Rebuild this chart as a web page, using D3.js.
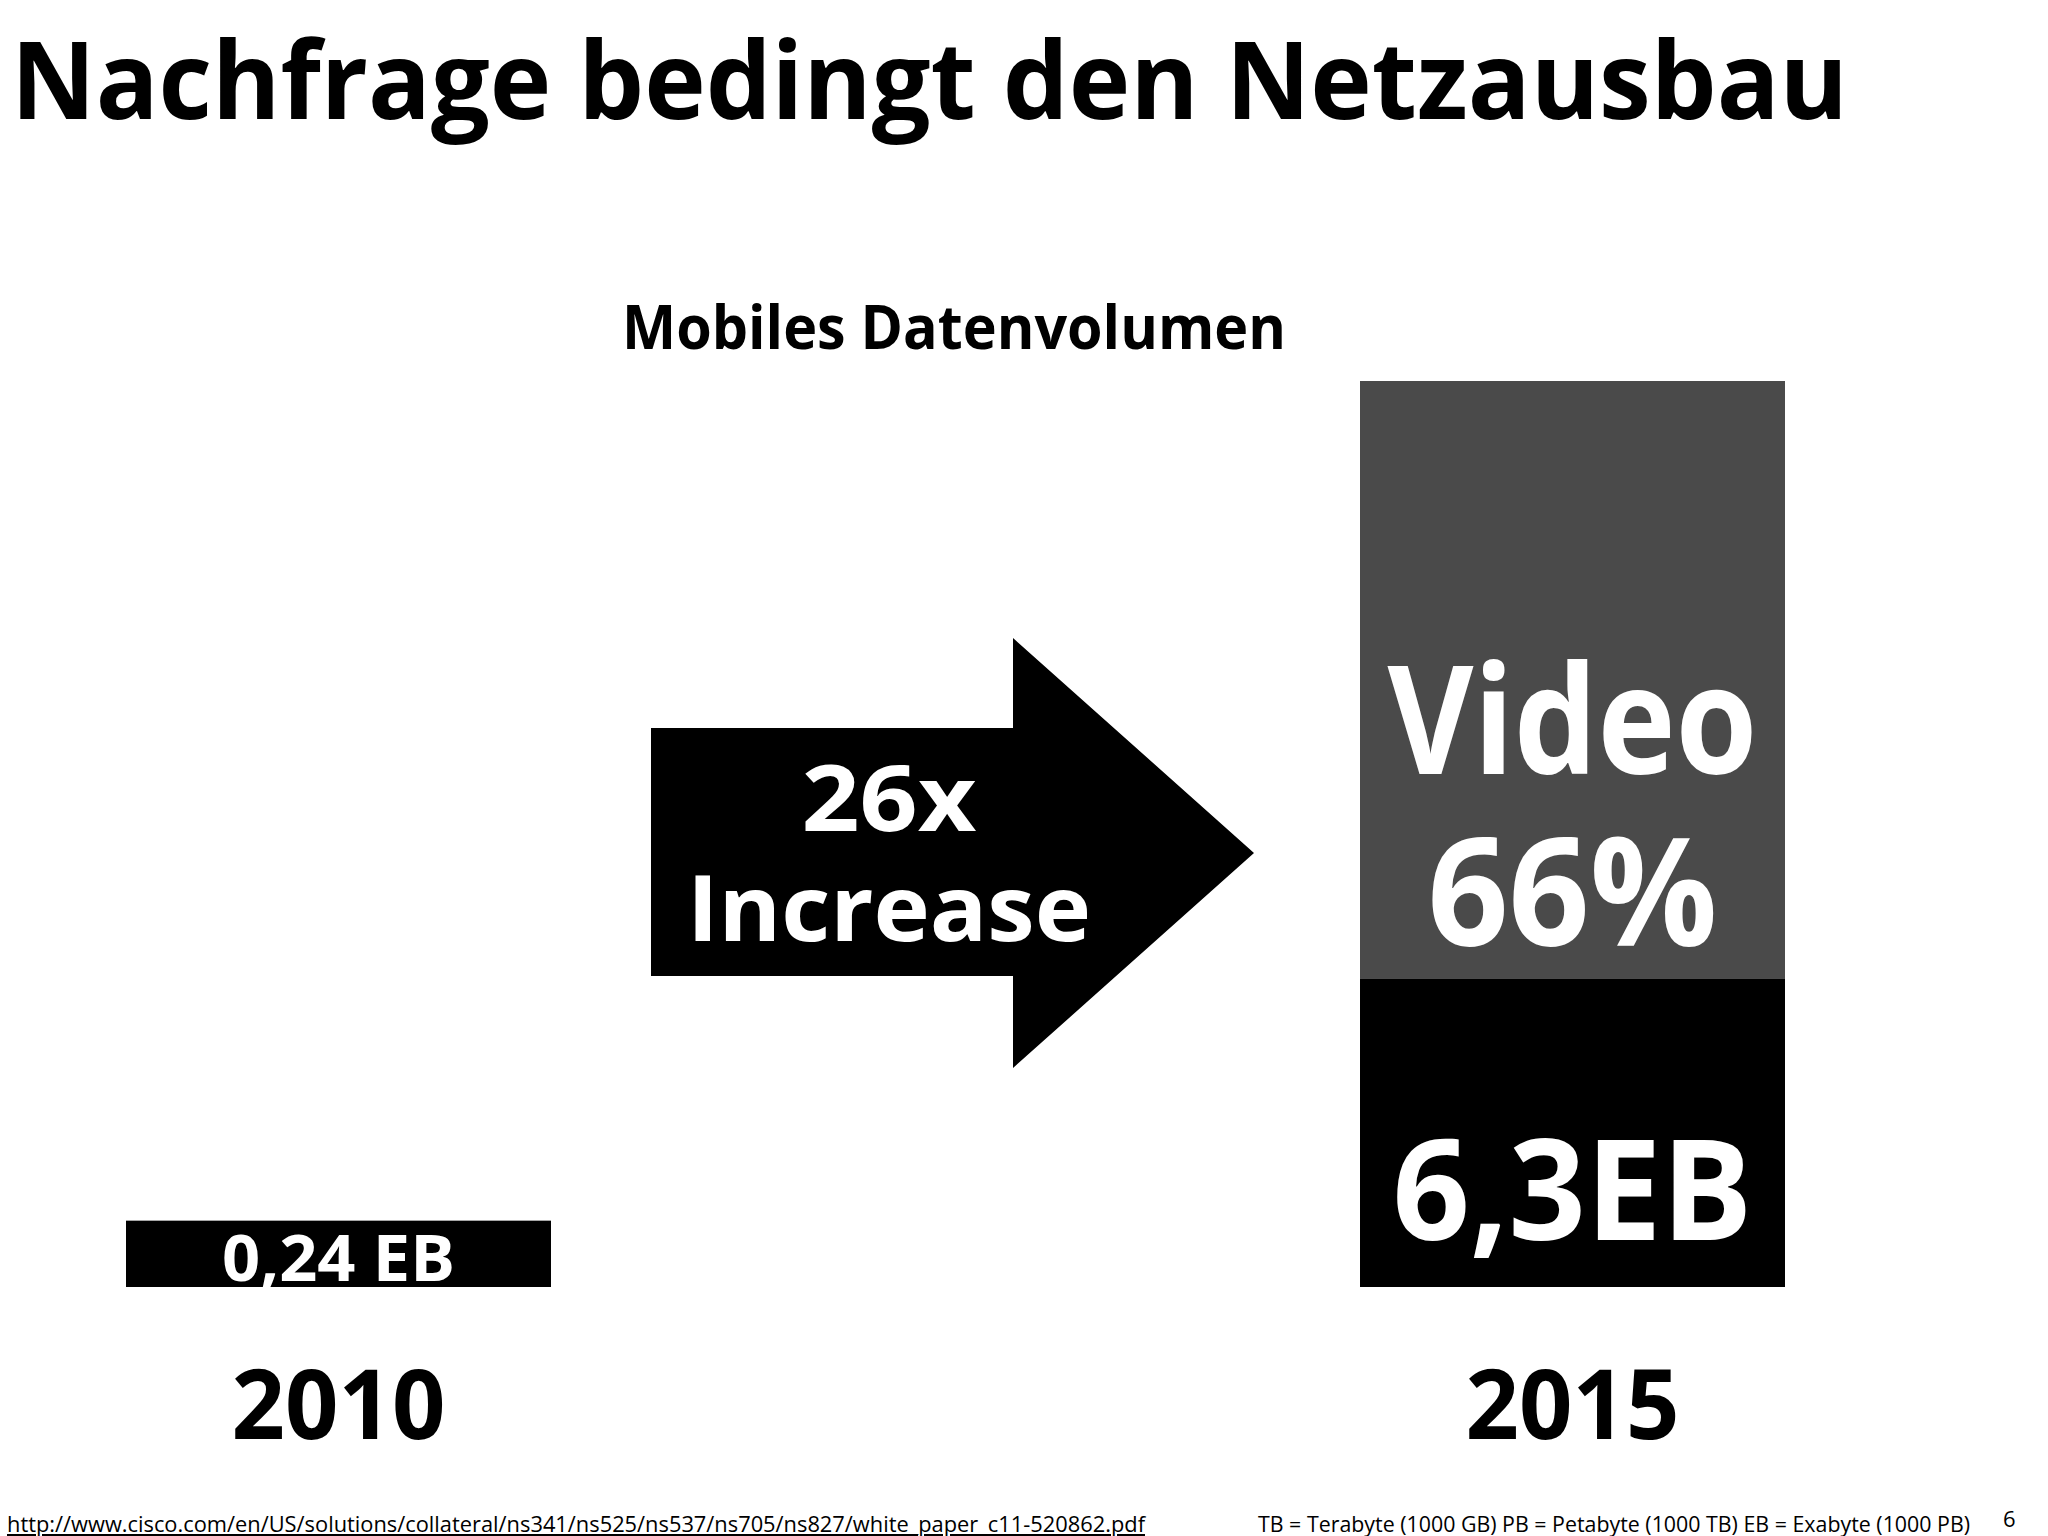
<!DOCTYPE html>
<html><head><meta charset="utf-8">
<script src="https://cdn.jsdelivr.net/npm/d3@7"></script>
<style>body{margin:0;background:#fff}svg{display:block}</style>
</head><body><svg id="c" width="2048" height="1536"></svg>
<script>
const years = ["2010", "2015"];
const volumes = [0.24, 6.3];
const volumeLabels = ["0,24 EB", "6,3EB"];
const videoShare = 0.66;
const videoLabel = ["Video", "66%"];
const arrowLabel = ["26x", "Increase"];

const svg = d3.select("#c");
const F = "'Open Sans', 'DejaVu Sans', sans-serif";
function txt(x, y, s, size, opts = {}) {
  const t = svg.append("text").attr("x", x).attr("y", y).text(s)
    .attr("font-family", F).attr("font-size", size)
    .attr("font-weight", opts.w || 700).attr("fill", opts.fill || "#000")
    .attr("text-anchor", opts.anchor || "start");
  if (opts.len) t.attr("textLength", opts.len).attr("lengthAdjust", "spacingAndGlyphs");
  if (opts.u) t.attr("text-decoration", "underline");
  return t;
}

txt(11, 119, "Nachfrage bedingt den Netzausbau", 108, {len: 1837});
txt(622, 349, "Mobiles Datenvolumen", 60, {len: 664});

const x = d3.scaleBand().domain(years).range([126, 1785]).paddingInner(0.6556).paddingOuter(0);
const y = d3.scalePow().exponent(0.8).domain([0, 6.3]).range([1287, 381]);

years.forEach((yr, i) => {
  const x0 = x(yr), w = x.bandwidth(), cx = x0 + w / 2;
  const top = y(volumes[i]), bot = y(0);
  if (i === 1) {
    const split = top + (bot - top) * videoShare;
    svg.append("rect").attr("x", x0).attr("y", top).attr("width", w).attr("height", split - top).attr("fill", "#4a4a4a");
    svg.append("rect").attr("x", x0).attr("y", split).attr("width", w).attr("height", bot - split).attr("fill", "#000");
    txt(cx, 774, videoLabel[0], 150, {anchor: "middle", fill: "#fff", len: 370});
    txt(cx, 946, videoLabel[1], 150, {anchor: "middle", fill: "#fff", len: 290});
    txt(cx, 1240, volumeLabels[1], 140, {anchor: "middle", fill: "#fff", len: 360});
  } else {
    svg.append("rect").attr("x", x0).attr("y", top).attr("width", w).attr("height", bot - top).attr("fill", "#000");
    txt(cx, 1281, volumeLabels[0], 64, {anchor: "middle", fill: "#fff", len: 233});
  }
  txt(cx, 1439, yr, 96, {anchor: "middle", len: 214});
});

// arrow
svg.append("path").attr("d", "M651,728 L1013,728 L1013,638 L1254,853 L1013,1068 L1013,976 L651,976 Z").attr("fill", "#000");
txt(889, 831, arrowLabel[0], 92, {anchor: "middle", fill: "#fff", len: 175});
txt(889, 941, arrowLabel[1], 92, {anchor: "middle", fill: "#fff", len: 404});

txt(7, 1532, "http://www.cisco.com/en/US/solutions/collateral/ns341/ns525/ns537/ns705/ns827/white_paper_c11-520862.pdf", 22, {w: 400, u: true, len: 1138});
txt(1258, 1532, "TB = Terabyte (1000 GB) PB = Petabyte (1000 TB) EB = Exabyte (1000 PB)", 22, {w: 400, len: 712});
txt(2003, 1527, "6", 22, {w: 400});
</script></body></html>
